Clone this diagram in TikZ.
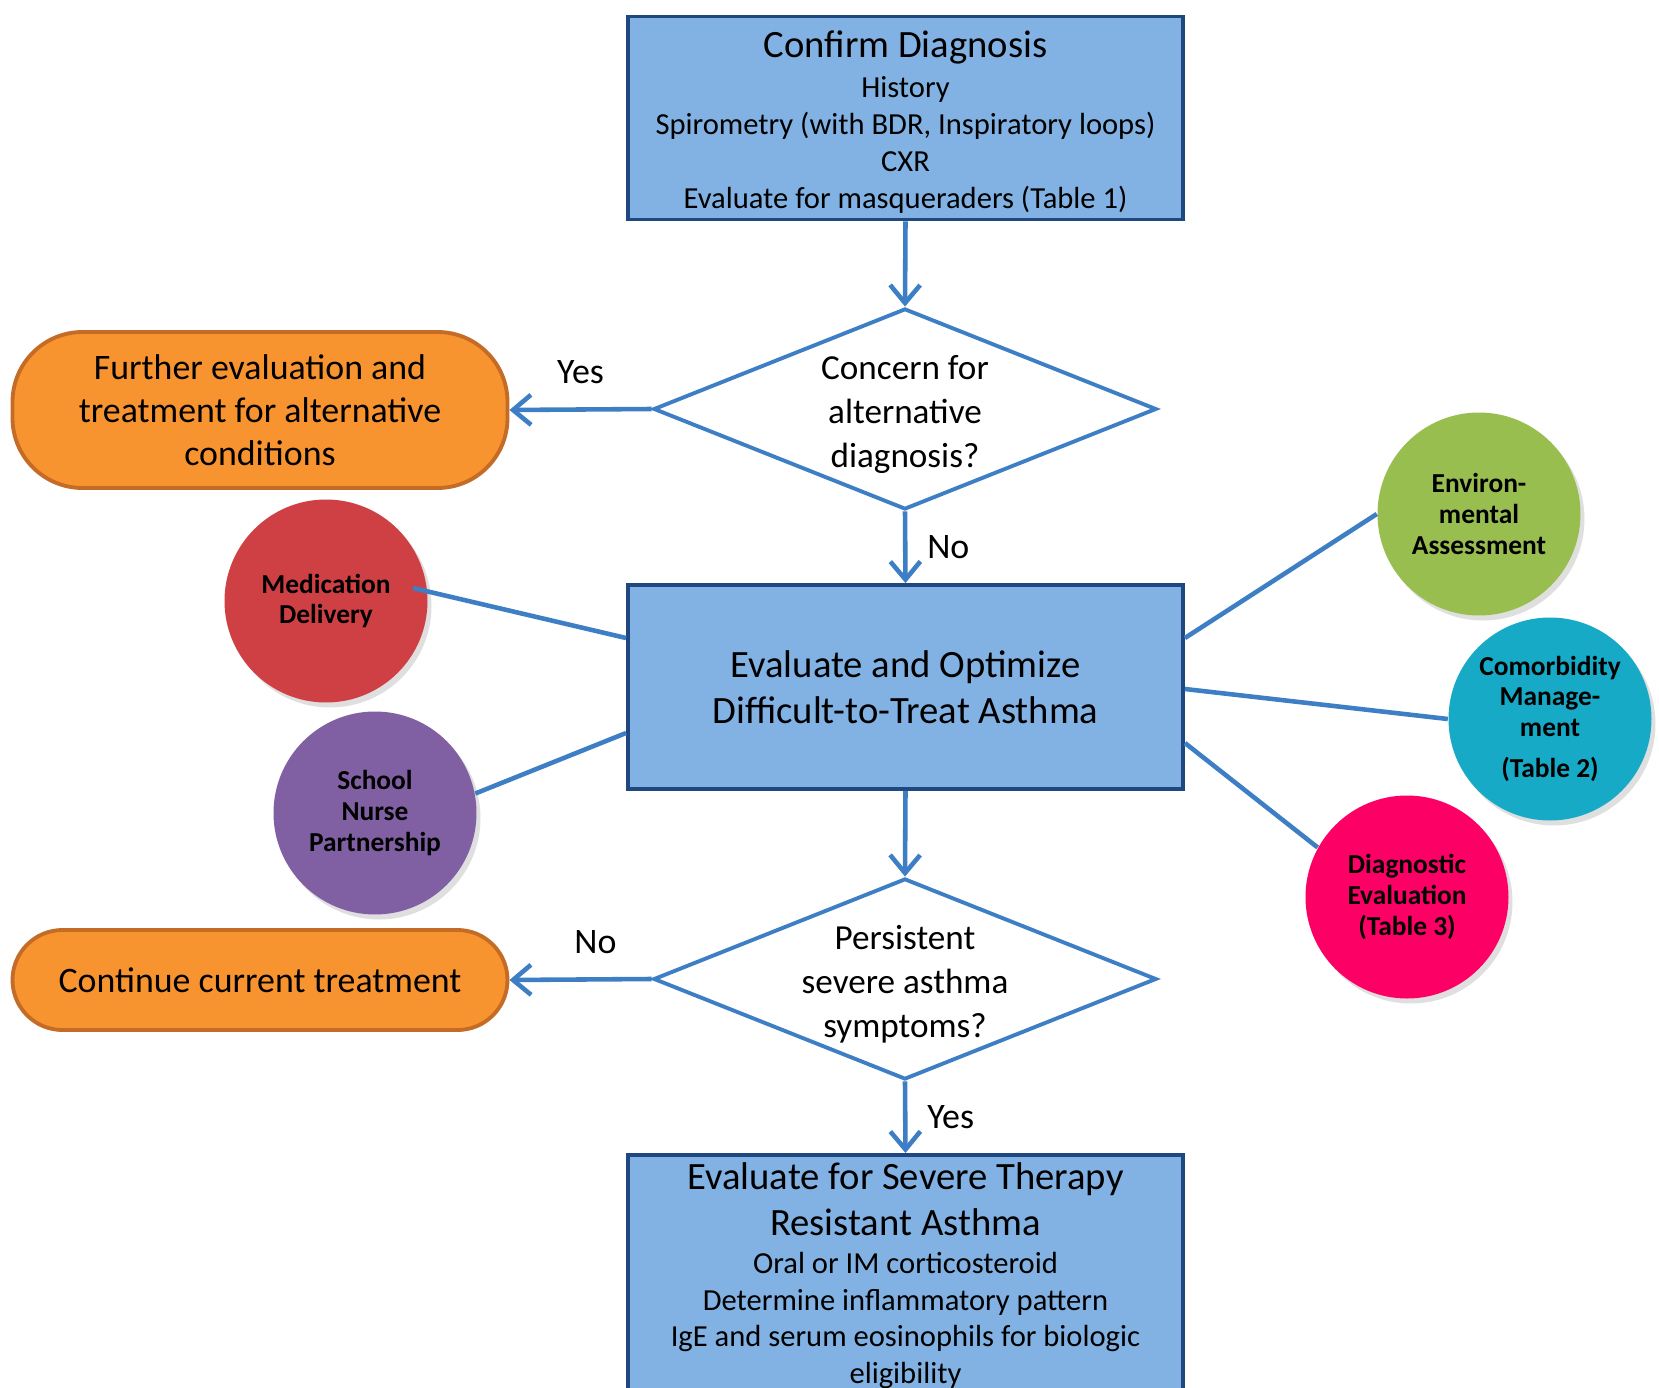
\documentclass[tikz,border=0pt]{standalone}
\usepackage{fontspec}
\setmainfont{Carlito}
\usepackage{tikz}
\usetikzlibrary{positioning, arrows.meta, calc, shapes.geometric, shadows}

\definecolor{boxfill}{RGB}{130,178,227}
\definecolor{boxline}{RGB}{31,72,128}
\definecolor{flowblue}{RGB}{62,126,196}
\definecolor{orangefill}{RGB}{248,148,48}
\definecolor{orangeline}{RGB}{196,108,38}
\definecolor{medred}{RGB}{207,64,68}
\definecolor{nursepurple}{RGB}{128,96,162}
\definecolor{envgreen}{RGB}{153,190,80}
\definecolor{comorbteal}{RGB}{22,170,199}
\definecolor{diagpink}{RGB}{252,0,102}

\newcommand{\headfont}{\fontsize{11}{13}\selectfont}
\newcommand{\subfont}{\fontsize{8.7}{10.5}\selectfont}

\begin{document}
\begin{tikzpicture}[
  >={Straight Barb[length=1.8mm, width=3mm]},
  stepbox/.style={draw=boxline, fill=boxfill, line width=1.1pt,
    minimum width=5.55cm, text width=5.4cm, align=flush center, inner xsep=0pt},
  decision/.style={diamond, draw=flowblue, fill=white, line width=1.1pt,
    aspect=2.5, minimum width=5.03cm, minimum height=2.01cm,
    inner xsep=0pt, inner ysep=-3pt,
    align=center, font=\fontsize{10}{12.5}\selectfont},
  outcome/.style={draw=orangeline, fill=orangefill, line width=1.1pt,
    rounded corners=#1, minimum width=4.95cm, align=center,
    font=\fontsize{10.2}{12.3}\selectfont},
  factor/.style={circle, fill=#1, minimum size=2.03cm, inner sep=0pt,
    align=center, font=\bfseries\fontsize{7.8}{8.7}\selectfont,
    drop shadow={opacity=0.25, shadow xshift=0.04cm, shadow yshift=-0.05cm}},
  flow/.style={->, draw=flowblue, line width=1.3pt},
  spoke/.style={draw=flowblue, line width=1.3pt},
  answer/.style={font=\fontsize{10.2}{12.3}\selectfont},
]

% --- Frame ---
\path[use as bounding box, fill=white] (0, 0) rectangle (16.59, 13.87);
\clip (0, 0) rectangle (16.59, 13.87);

% --- Main column ---
\node[stepbox, minimum height=2.03cm, inner ysep=1.7pt, font=\subfont] (confirm)
  at (9.055, 12.69)
  {{\headfont\rule{0pt}{9.8pt}Confirm Diagnosis\par}\vspace{1pt}
   History\\ Spirometry (with BDR, Inspiratory loops)\\ CXR\\
   Evaluate for masqueraders (Table 1)};

\node[decision] (concern) at (9.05, 9.78)
  {\rule{0pt}{9.8pt}Concern for\\ alternative\\ diagnosis?};

\node[stepbox, minimum height=2.04cm, font=\headfont] (optimize) at (9.055, 7.00)
  {Evaluate and Optimize\\ Difficult-to-Treat Asthma};

\node[decision] (persist) at (9.05, 4.08)
  {\rule{0pt}{9.8pt}Persistent\\ severe asthma\\ symptoms?};

\node[stepbox, anchor=north, inner ysep=2.2pt, font=\subfont] (severe) at (9.055, 2.34)
  {{\headfont Evaluate for Severe Therapy\\ Resistant Asthma\par}\vspace{0.3pt}
   Oral or IM corticosteroid\\ Determine inflammatory pattern\\
   IgE and serum eosinophils for biologic\\ eligibility};

% --- Side outcomes ---
\node[outcome=0.7cm, minimum height=1.56cm] (further) at (2.60, 9.77)
  {Further evaluation and\\ treatment for alternative\\ conditions};
\node[outcome=0.5cm, minimum height=1.0cm] (continue) at (2.60, 4.07)
  {Continue current treatment};

% --- Contributing factors ---
\node[factor=medred] (meddel) at (3.26, 7.86) {Medication\\ Delivery};
\node[factor=nursepurple] (nurse) at (3.75, 5.74) {School\\ Nurse\\ Partnership};
\node[factor=envgreen] (enviro) at (14.79, 8.73) {Environ-\\ mental\\ Assessment};
\node[factor=comorbteal] (comorb) at (15.50, 6.68)
  {Comorbidity\\ Manage-\\ ment\\[3pt] (Table 2)};
\node[factor=diagpink] (diag) at (14.07, 4.90) {Diagnostic\\ Evaluation\\ (Table 3)};

% --- Flow arrows ---
\draw[flow] (confirm.south) -- (concern.north);
\draw[flow] (concern.west) -- (further.east)
  node[midway, above=0.12cm, answer] {Yes};
\draw[flow] (concern.south) -- (optimize.north)
  node[midway, right=0.08cm, answer] {No};
\draw[flow] (optimize.south) -- (persist.north);
\draw[flow] (persist.west) -- (continue.east)
  node[midway, above=0.12cm, xshift=0.15cm, answer] {No};
\draw[flow] (persist.south) -- (severe.north)
  node[midway, right=0.08cm, answer] {Yes};

% --- Spokes to the factors ---
\draw[spoke] ($(meddel.center)+(0.87,0.13)$) -- ($(optimize.west)+(0,0.49)$);
\draw[spoke] (nurse.11) -- ($(optimize.west)+(0,-0.46)$);
\draw[spoke] (enviro.west) -- ($(optimize.east)+(0,0.49)$);
\draw[spoke] (comorb.west) -- ($(optimize.east)+(0,-0.02)$);
\draw[spoke] (diag.151) -- ($(optimize.east)+(0,-0.56)$);

\end{tikzpicture}
\end{document}
